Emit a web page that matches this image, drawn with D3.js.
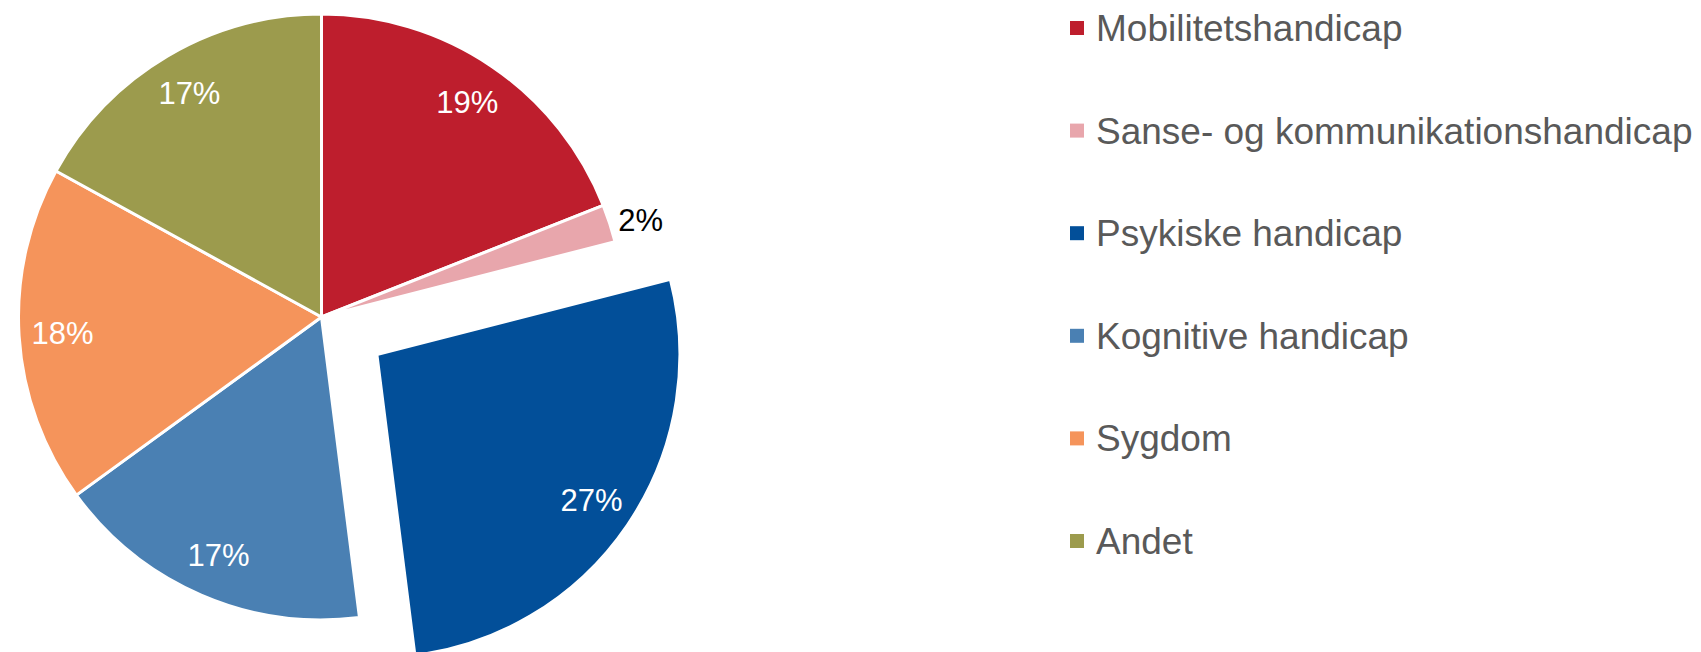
<!DOCTYPE html>
<html>
<head>
<meta charset="utf-8">
<script src="https://cdn.jsdelivr.net/npm/d3@7/dist/d3.min.js"></script>
<style>
  html, body { margin: 0; padding: 0; background: #ffffff; }
  svg { display: block; font-family: "Liberation Sans", Arial, sans-serif; }
</style>
</head>
<body>
<svg id="chart" width="1701" height="652"></svg>
<script>
const categories = ["Mobilitetshandicap", "Sanse- og kommunikationshandicap", "Psykiske handicap", "Kognitive handicap", "Sygdom", "Andet"];
const values = [19, 2, 27, 17, 18, 17];
const labels = ["19%", "2%", "27%", "17%", "18%", "17%"];
const colors = ["#BE1E2D", "#E8A6AC", "#024F99", "#4A80B3", "#F5945B", "#9C9B4D"];
const exploded = [false, false, true, false, false, false];
const outsideLabel = [false, true, false, false, false, false];

const svg = d3.select("#chart");
const cx = 321.5, cy = 317, R = 303, explodeDist = 67, labelR = 259.5;

const data = categories.map((c, i) => ({ name: c, value: values[i], label: labels[i], color: colors[i], exploded: exploded[i], outside: outsideLabel[i] }));

const pie = d3.pie().sort(null).value(d => d.value).startAngle(0).endAngle(2 * Math.PI);
const arcs = pie(data);
const arc = d3.arc().innerRadius(0).outerRadius(R);
const labelArc = d3.arc().innerRadius(labelR).outerRadius(labelR);
const outArc = d3.arc().innerRadius(312).outerRadius(312);

const g = svg.append("g").attr("transform", `translate(${cx},${cy})`);

function offset(d) {
  if (!d.data.exploded) return [0, 0];
  const m = (d.startAngle + d.endAngle) / 2;
  return [Math.sin(m) * explodeDist, -Math.cos(m) * explodeDist];
}

const slices = g.selectAll("g.slice").data(arcs).join("g")
  .attr("class", "slice")
  .attr("transform", d => { const o = offset(d); return `translate(${o[0]},${o[1]})`; });

slices.append("path")
  .attr("d", arc)
  .attr("fill", d => d.data.color)
  .attr("stroke", "#ffffff")
  .attr("stroke-width", 3)
  .attr("stroke-linejoin", "round");

slices.filter(d => !d.data.outside).append("text")
  .attr("transform", d => `translate(${labelArc.centroid(d)})`)
  .attr("text-anchor", "middle")
  .attr("dy", "0.35em")
  .attr("font-size", 31)
  .attr("fill", "#ffffff")
  .text(d => d.data.label);

slices.filter(d => d.data.outside).append("text")
  .attr("transform", d => `translate(${outArc.centroid(d)})`)
  .attr("text-anchor", "start")
  .attr("dy", "0.35em")
  .attr("font-size", 31)
  .attr("fill", "#000000")
  .text(d => d.data.label);

// Legend
const legend = svg.append("g").attr("transform", "translate(1070,41)");
const rowH = 102.6;
const items = legend.selectAll("g.item").data(data).join("g")
  .attr("class", "item")
  .attr("transform", (d, i) => `translate(0,${i * rowH})`);
items.append("rect")
  .attr("x", 0).attr("y", -20)
  .attr("width", 14).attr("height", 14)
  .attr("fill", d => d.color);
items.append("text")
  .attr("x", 26).attr("y", 0)
  .attr("font-size", 37)
  .attr("fill", "#595959")
  .text(d => d.name);
</script>
</body>
</html>
